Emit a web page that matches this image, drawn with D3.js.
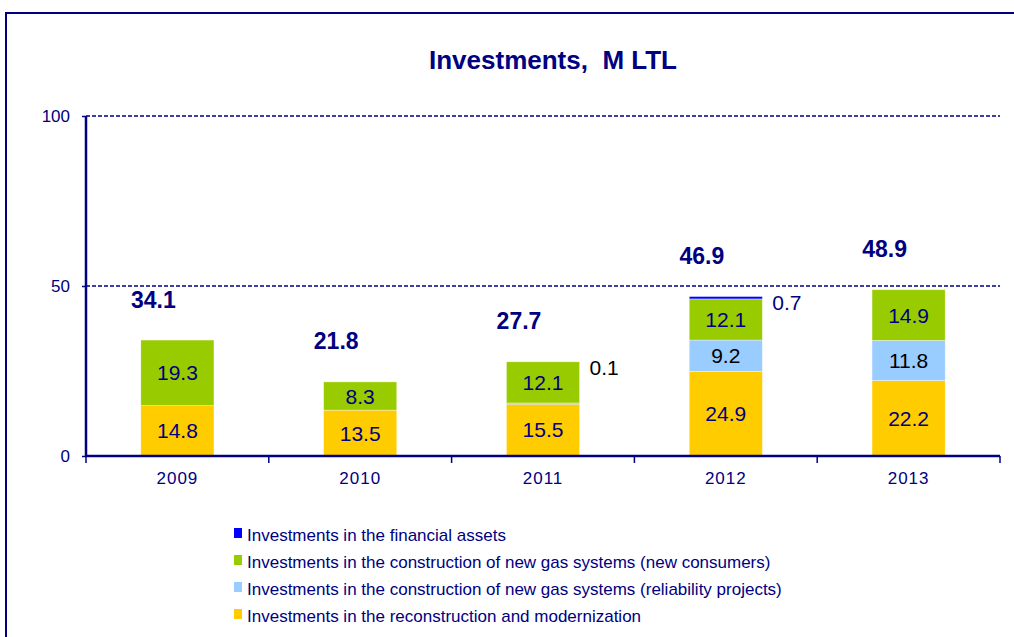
<!DOCTYPE html>
<html lang="en">
<head>
  <meta charset="UTF-8">
  <title>Investments, M LTL</title>
  <script src="https://d3js.org/d3.v7.min.js"></script>
  <style>
    body { margin: 0; background: #fff; }
    svg { display: block; font-family: "Liberation Sans", Arial, sans-serif; }
  </style>
</head>
<body>
<div class="main"></div>
<script>
  let width = 1014;
  let height = 637;

  let years = ["2009", "2010", "2011", "2012", "2013"];
  let reconstruction = [14.8, 13.5, 15.5, 24.9, 22.2];
  let reliability = [0, 0, 0.1, 9.2, 11.8];
  let newConsumers = [19.3, 8.3, 12.1, 12.1, 14.9];
  let financial = [0, 0, 0, 0.7, 0];
  let totals = [34.1, 21.8, 27.7, 46.9, 48.9];
  let yTicks = [0, 50, 100];

  let seriesNames = [
    "Investments in the financial assets",
    "Investments in the construction of new gas systems (new consumers)",
    "Investments in the construction of new gas systems (reliability projects)",
    "Investments in the reconstruction and modernization"
  ];

  let navy = "#000080";

  // stacking order bottom -> top
  let series = [
    { key: "rec", values: reconstruction, color: "#ffcc00", label: navy },
    { key: "rel", values: reliability, color: "#99ccff", label: "#000000" },
    { key: "new", values: newConsumers, color: "#99cc00", label: navy },
    { key: "fin", values: financial, color: "#0000ff", label: navy }
  ];

  let rows = years.map((y, i) => {
    let r = { year: y };
    series.forEach(s => r[s.key] = s.values[i]);
    return r;
  });
  let stacked = d3.stack().keys(series.map(s => s.key))(rows);

  let x = d3.scaleBand()
          .domain(years)
          .range([86, 1000])
          .paddingInner(0)
          .paddingOuter(0);

  let y = d3.scaleLinear()
          .domain([0, 100])
          .range([456, 116]);

  let barW = x.bandwidth() * 0.4;

  let svg = d3.select(".main")
          .append("svg")
          .attr("width", width)
          .attr("height", height);

  // outer frame
  svg.append("rect")
          .attr("x", 6).attr("y", 13)
          .attr("width", 1030).attr("height", 640)
          .attr("fill", "none")
          .attr("stroke", navy)
          .attr("stroke-width", 2);

  // title
  svg.append("text")
          .attr("x", 553).attr("y", 69)
          .attr("text-anchor", "middle")
          .attr("fill", navy)
          .style("font-size", "26px")
          .style("font-weight", "bold")
          .attr("xml:space", "preserve")
          .text("Investments,  M LTL");

  // gridlines
  svg.append("g")
          .selectAll("line")
          .data(yTicks.filter(d => d > 0))
          .join("line")
          .attr("x1", 86).attr("x2", 1000)
          .attr("y1", d => y(d)).attr("y2", d => y(d))
          .attr("stroke", navy)
          .attr("stroke-width", 1.3)
          .attr("stroke-dasharray", "4,2");

  // bars
  let layer = svg.append("g")
          .selectAll("g")
          .data(stacked)
          .join("g")
          .attr("fill", (d, i) => series[i].color);

  layer.selectAll("rect")
          .data(d => d.filter(p => p[1] - p[0] > 0))
          .join("rect")
          .attr("x", d => x(d.data.year) + (x.bandwidth() - barW) / 2)
          .attr("y", d => y(d[1]))
          .attr("width", barW)
          .attr("height", d => Math.max(1.5, y(d[0]) - y(d[1])))
          .attr("stroke", "#ffffff")
          .attr("stroke-opacity", 0.6)
          .attr("stroke-width", 0.6);

  // segment labels
  stacked.forEach((s, si) => {
    s.forEach((p, i) => {
      let v = p[1] - p[0];
      if (v <= 0) return;
      let cx = x(p.data.year) + x.bandwidth() / 2;
      let small = v < 1;
      svg.append("text")
              .attr("x", small ? cx + barW / 2 + 10 : cx)
              .attr("y", small ? y(totals[i]) + 6 : (y(p[0]) + y(p[1])) / 2)
              .attr("dy", "0.36em")
              .attr("text-anchor", small ? "start" : "middle")
              .attr("fill", series[si].label)
              .style("font-size", "21px")
              .text(v.toFixed(1));
    });
  });

  // totals
  svg.append("g")
          .selectAll("text")
          .data(totals)
          .join("text")
          .attr("x", (d, i) => x(years[i]) + x.bandwidth() / 2 - 24)
          .attr("y", d => y(d + 12))
          .attr("dy", "0.36em")
          .attr("text-anchor", "middle")
          .attr("fill", navy)
          .style("font-size", "23px")
          .style("font-weight", "bold")
          .text(d => d.toFixed(1));

  // axes
  let yAxis = d3.axisLeft(y).tickValues(yTicks).tickSize(4).tickPadding(12);
  let yG = svg.append("g").attr("transform", "translate(86,0)").call(yAxis);
  yG.select(".domain").attr("stroke", navy).attr("stroke-width", 2.5).attr("d", "M0,116V456");
  yG.selectAll(".tick line").attr("stroke", navy).attr("stroke-width", 1.5);
  yG.selectAll(".tick text").attr("fill", navy).style("font-size", "17px")
          .style("font-family", "Liberation Sans, Arial, sans-serif");

  let xAxis = d3.axisBottom(x).tickSize(0).tickPadding(16);
  let xG = svg.append("g").attr("transform", "translate(0,456)").call(xAxis);
  xG.select(".domain").attr("stroke", navy).attr("stroke-width", 2.5).attr("d", "M86,0H1000");
  xG.selectAll(".tick text").attr("fill", navy).style("font-size", "17px")
          .style("letter-spacing", "1px")
          .style("font-family", "Liberation Sans, Arial, sans-serif");

  // category separator ticks
  svg.append("g")
          .selectAll("line")
          .data(years.concat(["end"]))
          .join("line")
          .attr("x1", (d, i) => i < years.length ? x(d) : x.range()[1])
          .attr("x2", (d, i) => i < years.length ? x(d) : x.range()[1])
          .attr("y1", 456).attr("y2", 463)
          .attr("stroke", navy)
          .attr("stroke-width", 1.5);

  // legend
  let legendColors = ["#0000ff", "#99cc00", "#99ccff", "#ffcc00"];
  let legend = svg.append("g")
          .selectAll("g")
          .data(seriesNames)
          .join("g")
          .attr("transform", (d, i) => `translate(234, ${541 + i * 27})`);
  legend.append("rect")
          .attr("x", 0).attr("y", -13)
          .attr("width", 8).attr("height", 10)
          .attr("fill", (d, i) => legendColors[i]);
  legend.append("text")
          .attr("x", 13).attr("y", 0)
          .attr("fill", navy)
          .style("font-size", "17px")
          .text(d => d);
</script>
</body>
</html>
